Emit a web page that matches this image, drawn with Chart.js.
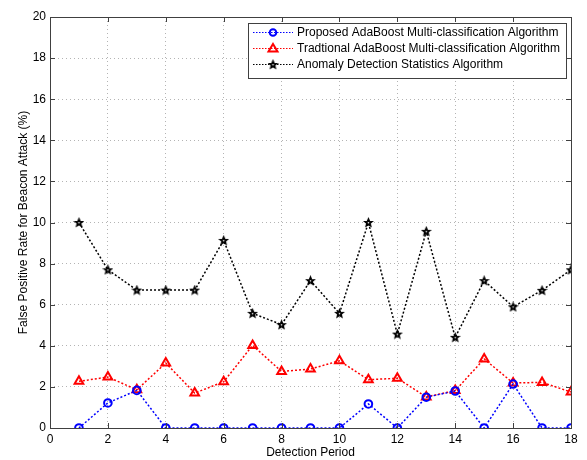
<!DOCTYPE html>
<html>
<head>
<meta charset="utf-8">
<script src="https://cdn.jsdelivr.net/npm/chart.js@4.4.1/dist/chart.umd.min.js"></script>
<style>
  html, body { margin: 0; padding: 0; background: #fff; }
  #wrap { width: 587px; height: 460px; }
</style>
</head>
<body>
<div id="wrap"><canvas id="myChart" width="587" height="460"></canvas></div>
<script>
// values
const periods = [1, 2, 3, 4, 5, 6, 7, 8, 9, 10, 11, 12, 13, 14, 15, 16, 17, 18];
const proposed = [0, 1.22, 1.83, 0, 0, 0, 0, 0, 0, 0, 1.17, 0, 1.5, 1.8, 0, 2.14, 0, 0];
const traditional = [2.27, 2.48, 1.86, 3.16, 1.7, 2.25, 4.02, 2.75, 2.87, 3.27, 2.35, 2.42, 1.51, 1.82, 3.36, 2.19, 2.22, 1.75];
const anomaly = [10, 7.7, 6.71, 6.71, 6.71, 9.13, 5.58, 5.03, 7.17, 5.58, 10, 4.57, 9.57, 4.41, 7.17, 5.9, 6.7, 7.7];
const seriesNames = [
  'Proposed AdaBoost Multi-classification Algorithm',
  'Tradtional AdaBoost Multi-classification Algorithm',
  'Anomaly Detection Statistics Algorithm'
];
const xTitle = 'Detection Period';
const yTitle = 'False Positive Rate for Beacon Attack (%)';

const FONT = 'Liberation Sans, Arial, Helvetica, sans-serif';

// pentagram marker like matlab 'p'
const makeStar = () => {
  const c = document.createElement('canvas');
  c.width = 11; c.height = 11;
  const g = c.getContext('2d');
  g.beginPath();
  for (let i = 0; i < 10; i++) {
    const r = i % 2 === 0 ? 4.2 : 1.9;
    const a = -Math.PI / 2 + i * Math.PI / 5;
    const px = 5.5 + r * Math.cos(a), py = 5.8 + r * Math.sin(a);
    if (i === 0) g.moveTo(px, py); else g.lineTo(px, py);
  }
  g.closePath();
  g.fillStyle = '#000';
  g.fill();
  g.lineWidth = 1.2;
  g.strokeStyle = '#000';
  g.stroke();
  g.fillStyle = '#fff';
  g.beginPath();
  g.arc(5.5, 5.8, 0.8, 0, Math.PI * 2);
  g.fill();
  return c;
};
const starImg = makeStar();

const toPoints = (vals) => periods.map((p, i) => ({ x: p, y: vals[i] }));

const mkSet = (label, vals, color, style, radius) => ({
  label: label,
  data: toPoints(vals),
  borderColor: color,
  borderWidth: 1.5,
  borderDash: [2, 2],
  pointStyle: style,
  pointRadius: radius,
  pointBorderWidth: 2,
  pointBorderColor: color,
  pointBackgroundColor: 'rgba(0,0,0,0)',
  tension: 0,
  fill: false
});

const datasets = [
  mkSet(seriesNames[0], proposed, '#0000ff', 'circle', 3.8),
  mkSet(seriesNames[1], traditional, '#ff0000', 'triangle', 5),
  mkSet(seriesNames[2], anomaly, '#000000', starImg, 5)
];

// inward ticks, box and legend, matlab style
const matlabAxes = {
  id: 'matlabAxes',
  afterDraw(chart) {
    const { ctx, chartArea: a, scales } = chart;
    ctx.save();
    ctx.strokeStyle = '#404040';
    ctx.lineWidth = 1;
    ctx.setLineDash([]);
    ctx.beginPath();
    scales.x.ticks.forEach(t => {
      const px = Math.round(scales.x.getPixelForValue(t.value)) + 0.5;
      ctx.moveTo(px, a.bottom); ctx.lineTo(px, a.bottom - 5);
      ctx.moveTo(px, a.top); ctx.lineTo(px, a.top + 5);
    });
    scales.y.ticks.forEach(t => {
      const py = Math.round(scales.y.getPixelForValue(t.value)) + 0.5;
      ctx.moveTo(a.left, py); ctx.lineTo(a.left + 5, py);
      ctx.moveTo(a.right, py); ctx.lineTo(a.right - 5, py);
    });
    ctx.stroke();
    ctx.strokeRect(Math.round(a.left) + 0.5, Math.round(a.top) + 0.5,
      Math.round(a.right - a.left), Math.round(a.bottom - a.top));

    // legend box
    const lx = 248.5, ly = 23.5, lw = 318, lh = 55;
    ctx.fillStyle = '#fff';
    ctx.fillRect(lx, ly, lw, lh);
    ctx.strokeStyle = '#404040';
    ctx.strokeRect(lx, ly, lw, lh);
    ctx.font = '12px ' + FONT;
    ctx.textBaseline = 'middle';
    ctx.textAlign = 'left';
    chart.data.datasets.forEach((ds, i) => {
      const yy = 32.5 + i * 16;
      ctx.strokeStyle = ds.borderColor;
      ctx.lineWidth = 1.2;
      ctx.setLineDash([1.5, 1.5]);
      ctx.beginPath();
      ctx.moveTo(253, yy); ctx.lineTo(293, yy);
      ctx.stroke();
      ctx.setLineDash([]);
      ctx.lineWidth = 2;
      ctx.strokeStyle = ds.borderColor;
      if (ds.pointStyle === 'circle') {
        ctx.beginPath(); ctx.arc(273, yy, 3.3, 0, Math.PI * 2); ctx.stroke();
      } else if (ds.pointStyle === 'triangle') {
        ctx.beginPath();
        ctx.moveTo(273, yy - 4.5); ctx.lineTo(277.5, yy + 3); ctx.lineTo(268.5, yy + 3);
        ctx.closePath(); ctx.stroke();
      } else {
        ctx.drawImage(ds.pointStyle, 273 - 5.5, yy - 5.5);
      }
      ctx.fillStyle = '#000';
      ctx.fillText(ds.label, 297, yy + 0.5);
    });
    ctx.restore();
  }
};

new Chart(document.getElementById('myChart').getContext('2d'), {
  type: 'line',
  data: { datasets: datasets },
  options: {
    responsive: false,
    animation: false,
    layout: { padding: { left: 0, top: 17, right: 16, bottom: 0 } },
    plugins: {
      legend: { display: false },
      tooltip: { enabled: false }
    },
    scales: {
      x: {
        type: 'linear',
        min: 0,
        max: 18,
        afterFit: (s) => { s.height = 32; },
        ticks: { stepSize: 2, padding: 4, color: '#000', font: { family: FONT, size: 12 } },
        grid: { color: '#b4b4b4', lineWidth: 1, drawTicks: false },
        border: { display: false, dash: [1, 3] },
        title: { display: true, text: xTitle, color: '#000', font: { family: FONT, size: 12 }, padding: { top: 0, bottom: 0 } }
      },
      y: {
        min: 0,
        max: 20,
        afterFit: (s) => { s.width = 50; },
        ticks: { stepSize: 2, padding: 4, color: '#000', font: { family: FONT, size: 12 } },
        grid: { color: '#b4b4b4', lineWidth: 1, drawTicks: false },
        border: { display: false, dash: [1, 3] },
        title: { display: true, text: yTitle, color: '#000', font: { family: FONT, size: 12 }, padding: { top: 16, bottom: 0 } }
      }
    }
  },
  plugins: [matlabAxes]
});
</script>
</body>
</html>
